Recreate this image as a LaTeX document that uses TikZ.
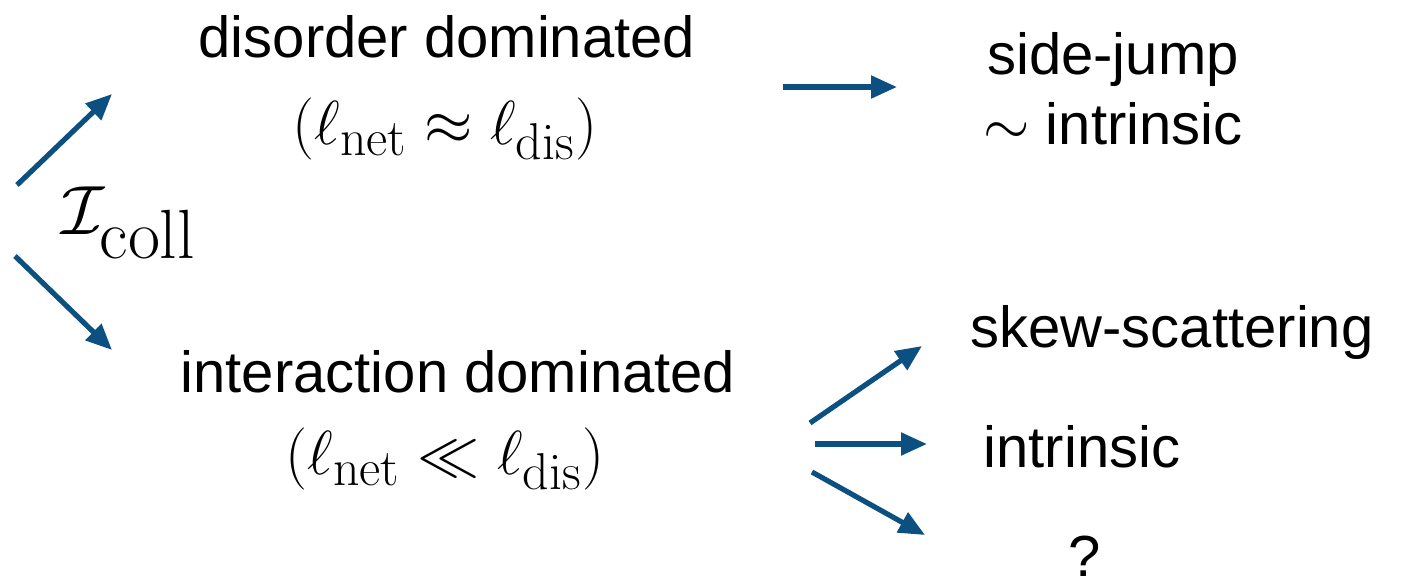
\documentclass[tikz,border=0pt]{standalone}
\usepackage{amsmath,amssymb}
\usepackage{graphicx}
\usepackage[no-math]{fontspec}
\setmainfont{Liberation Sans}
\usetikzlibrary{arrows.meta}
\definecolor{arrblue}{RGB}{11,80,128}
\newcommand{\mrm}[1]{\mathrm{#1}}
\tikzset{
  arr/.style={draw=arrblue, line width=2.6pt, -{Triangle[length=13pt,width=11pt]}},
  lbl/.style={font=\fontsize{29}{35}\selectfont, inner sep=0pt, align=center},
  mth/.style={font=\fontsize{31}{37}\selectfont, inner sep=0pt}
}
\begin{document}
\begin{tikzpicture}[x=0.5pt,y=-0.5pt]
\useasboundingbox (0,0) rectangle (1405,584);
\node[lbl] (dd) at (447,37) {disorder dominated};
\node[mth] (ddm) at (445,129) {\scalebox{1.25}{$(\ell_{\mrm{net}}\approx\ell_{\mrm{dis}})$}};
\node[lbl] (sj) at (1113,89) {side-jump\\\scalebox{1.2}{$\sim$} intrinsic};
\node[mth,font=\fontsize{40}{46}\selectfont] (ic) at (129,223) {\scalebox{1.4}{$\mathcal{I}_{\mrm{coll}}$}};
\node[lbl] (id) at (458,372) {interaction dominated};
\node[mth] (idm) at (445,459) {\scalebox{1.25}{$(\ell_{\mrm{net}}\ll\ell_{\mrm{dis}})$}};
\node[lbl] (ss) at (1172,333) {skew-scattering};
\node[lbl] (in) at (1082,447) {intrinsic};
\node[lbl] (q) at (1085,556) {?};
\coordinate (a1s) at (17,185); \coordinate (a1e) at (112,94);
\coordinate (a2s) at (15,256); \coordinate (a2e) at (112,350);
\coordinate (a3s) at (783,87); \coordinate (a3e) at (897,87);
\coordinate (a4s) at (810,423); \coordinate (a4e) at (922,346);
\coordinate (a5s) at (815,444); \coordinate (a5e) at (927,444);
\coordinate (a6s) at (812,472); \coordinate (a6e) at (925,535);
\draw[arr] (a1s) -- (a1e);
\draw[arr] (a2s) -- (a2e);
\draw[arr] (a3s) -- (a3e);
\draw[arr] (a4s) -- (a4e);
\draw[arr] (a5s) -- (a5e);
\draw[arr] (a6s) -- (a6e);
\end{tikzpicture}
\end{document}
